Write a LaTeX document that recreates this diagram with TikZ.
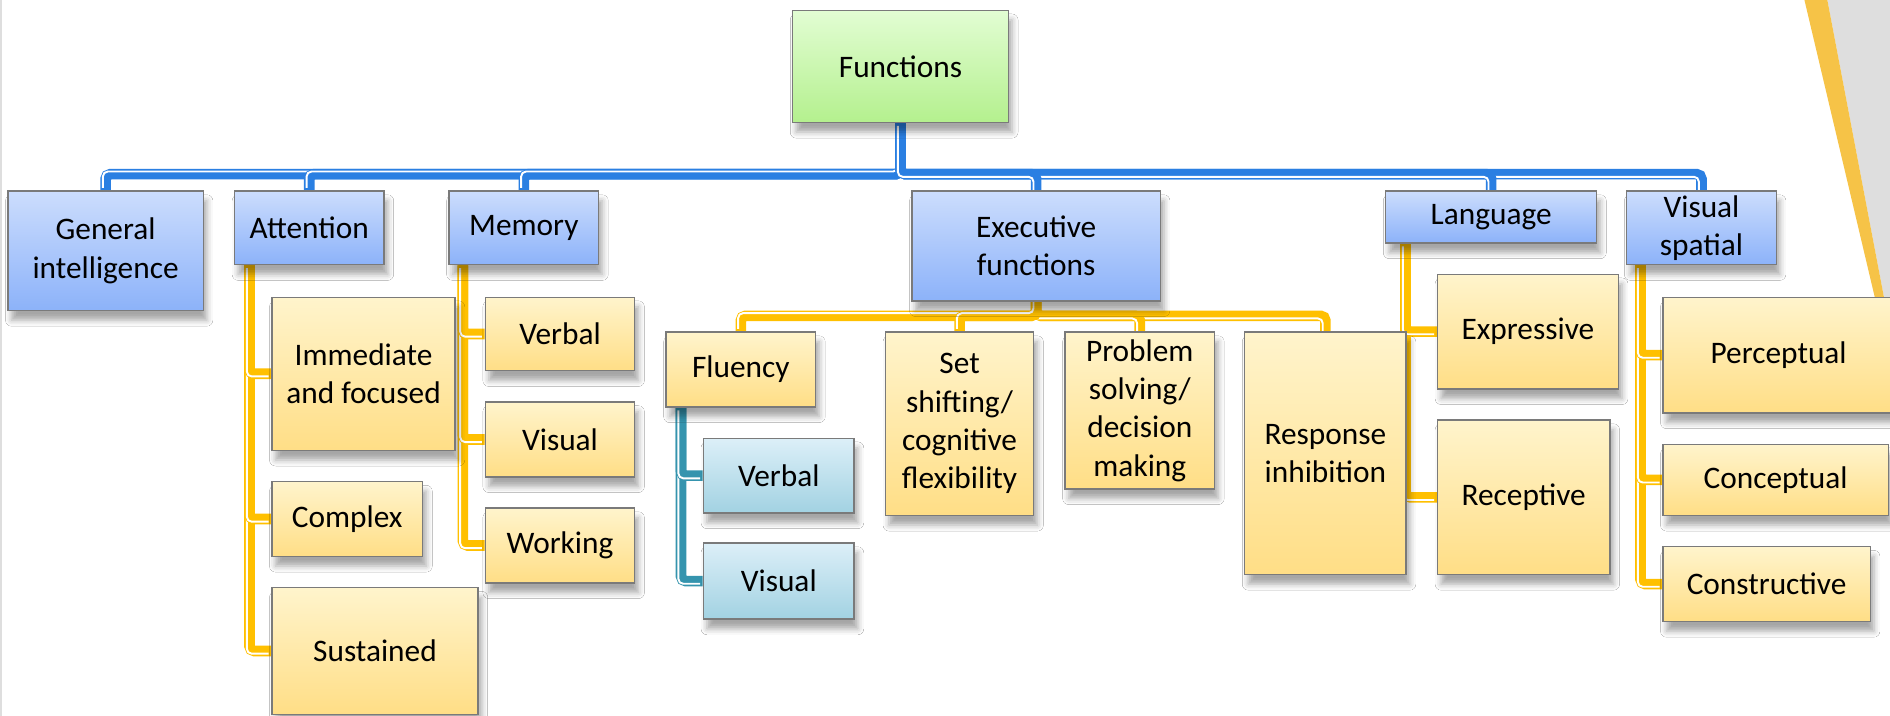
\documentclass[tikz,border=0pt]{standalone}
\usepackage{fontspec}
\setmainfont{Carlito}
\usetikzlibrary{shadows.blur}
\definecolor{blueTop}{HTML}{CCDDFD}
\definecolor{blueBot}{HTML}{8CB2F9}
\definecolor{greenTop}{HTML}{E2FDD3}
\definecolor{greenBot}{HTML}{B4F08E}
\definecolor{yelTop}{HTML}{FFF4CC}
\definecolor{yelBot}{HTML}{FFDE86}
\definecolor{tealTop}{HTML}{DCEFF8}
\definecolor{tealBot}{HTML}{A2D2E2}
\definecolor{edgeGray}{HTML}{7A7A7A}
\definecolor{lineBlue}{HTML}{2A7FE2}
\definecolor{lineGold}{HTML}{FFC000}
\definecolor{lineTeal}{HTML}{3594AE}
\definecolor{decoGold}{HTML}{F6C347}
\definecolor{decoGray}{HTML}{DEDEDE}
\newcommand\dline[3]{%
  \draw[conn, draw=#1] #3;
  \draw[wline, transform canvas={shift={(-1.1pt,#2)}}] #3;
}
\newcommand\allboxes{%
  \bx{green}{fun}{657,8}{89.5}{46.5}{Functions}
  \bx{blue}{gen}{6,158}{81}{49.5}{General\\intelligence}
  \bx{blue}{att}{194,158}{62}{30.5}{Attention}
  \bx{blue}{mem}{372,158}{62}{30.5}{Memory}
  \bx{blue}{exec}{756,158}{103}{45.5}{Executive\\functions}
  \bx{blue}{lang}{1149,158}{87.5}{21.5}{Language}
  \bx{blue}{vs}{1349,158}{62}{30.5}{Visual\\spatial}
  \bx{yel}{imm}{225,246}{76}{63.5}{Immediate\\and focused}
  \bx{yel}{cplx}{225,399}{62.5}{31}{Complex}
  \bx{yel}{sus}{225,487}{85.5}{52.5}{Sustained}
  \bx{yel}{mverb}{402,246}{62}{30.5}{Verbal}
  \bx{yel}{mvis}{402,333}{62}{31}{Visual}
  \bx{yel}{mwork}{402,421}{62}{31}{Working}
  \bx{yel}{flu}{552,275}{62}{31}{Fluency}
  \bx{yel}{set}{734,275}{61.5}{76}{Set\\shifting/\\cognitive\\flexibility}
  \bx{yel}{prob}{883,275}{62}{65}{Problem\\solving/\\decision\\making}
  \bx{yel}{resp}{1032,275}{67}{100.5}{Response\\inhibition}
  \bx{teal}{fverb}{583,363}{62.5}{31}{Verbal}
  \bx{teal}{fvis}{583,450}{62.5}{31.5}{Visual}
  \bx{yel}{expr}{1192,227}{75}{47.5}{Expressive}
  \bx{yel}{rec}{1192,348}{71.5}{64}{Receptive}
  \bx{yel}{perc}{1379,246}{96}{48}{Perceptual}
  \bx{yel}{conc}{1379,368}{93.5}{29.5}{Conceptual}
  \bx{yel}{cons}{1379,453}{86}{31}{Constructive}
}
\begin{document}
\begin{tikzpicture}[x=0.5pt, y=-0.5pt,
  ghost/.style={line width=0.6pt, inner sep=1pt, anchor=north west},
  box/.style={draw=edgeGray, line width=0.6pt, inner sep=1pt, align=center,
    anchor=north west, font=\fontsize{13}{15.9}\selectfont,
    blur shadow={shadow xshift=1.5pt, shadow yshift=-4pt, shadow blur radius=2.5pt, shadow opacity=35}},
  bluebox/.style={box, top color=blueTop, bottom color=blueBot},
  greenbox/.style={box, top color=greenTop, bottom color=greenBot},
  yelbox/.style={box, top color=yelTop, bottom color=yelBot},
  tealbox/.style={box, top color=tealTop, bottom color=tealBot},
  conn/.style={line width=4.4pt, rounded corners=2pt},
  wline/.style={draw=white, line width=0.8pt, rounded corners=2pt}]
\useasboundingbox (0,0) rectangle (1568,594);
\fill[white] (0,0) rectangle (1568,594);
% slide decoration
\fill[decoGray] (1516,0) -- (1568,0) -- (1568,273) -- cycle;
\fill[decoGold] (1497,0) -- (1516,0) -- (1568,273) -- (1568,300) -- cycle;
\draw[decoGray, line width=1pt] (1,0) -- (1,594);

% place the nodes (invisible) so connectors can refer to them
\def\bx#1#2#3#4#5#6{\node[ghost, minimum width=#4pt, minimum height=#5pt] (#2) at (#3) {};}
\allboxes

% connectors
% top level
\dline{lineBlue}{1.1pt}{(fun.south) -- (fun.south |- 0,144.5) -| (gen.north)}
\dline{lineBlue}{1.1pt}{(fun.south) -- (fun.south |- 0,144.5) -| (att.north)}
\dline{lineBlue}{1.1pt}{(fun.south) -- (fun.south |- 0,144.5) -| (mem.north)}
\dline{lineBlue}{-1.1pt}{(fun.south) -- (fun.south |- 0,144.5) -| (vs.north)}
\dline{lineBlue}{-1.1pt}{(fun.south) -- (fun.south |- 0,144.5) -| (lang.north)}
\dline{lineBlue}{-1.1pt}{(fun.south) -- (fun.south |- 0,144.5) -| (exec.north)}
% executive functions
\dline{lineGold}{-1.1pt}{(exec.south) -- (exec.south |- 0,262) -| (resp.north)}
\dline{lineGold}{-1.1pt}{(exec.south) -- (exec.south |- 0,262) -| (prob.north)}
\dline{lineGold}{1.1pt}{(exec.south) -- (exec.south |- 0,262) -| (flu.north)}
\dline{lineGold}{1.1pt}{(exec.south) -- (exec.south |- 0,262) -| (set.north)}
% attention
\dline{lineGold}{-1.1pt}{([xshift=6.5pt]att.south west) |- (sus.west)}
\dline{lineGold}{-1.1pt}{([xshift=6.5pt]att.south west) |- (cplx.west)}
\dline{lineGold}{-1.1pt}{([xshift=6.5pt]att.south west) |- (imm.west)}
% memory
\dline{lineGold}{-1.1pt}{([xshift=6pt]mem.south west) |- (mwork.west)}
\dline{lineGold}{-1.1pt}{([xshift=6pt]mem.south west) |- (mvis.west)}
\dline{lineGold}{-1.1pt}{([xshift=6pt]mem.south west) |- (mverb.west)}
% fluency
\dline{lineTeal}{-1.1pt}{([xshift=6.5pt]flu.south west) |- (fvis.west)}
\dline{lineTeal}{-1.1pt}{([xshift=6.5pt]flu.south west) |- (fverb.west)}
% language
\dline{lineGold}{-1.1pt}{([xshift=8.5pt]lang.south west) |- (rec.west)}
\dline{lineGold}{-1.1pt}{([xshift=8.5pt]lang.south west) |- (expr.west)}
% visual spatial
\dline{lineGold}{-1.1pt}{([xshift=6pt]vs.south west) |- (cons.west)}
\dline{lineGold}{-1.1pt}{([xshift=6pt]vs.south west) |- (conc.west)}
\dline{lineGold}{-1.1pt}{([xshift=6pt]vs.south west) |- (perc.west)}

% visible boxes on top of the connectors
\def\bx#1#2#3#4#5#6{\node[#1box, minimum width=#4pt, minimum height=#5pt] (#2) at (#3) {#6};}
\allboxes
\end{tikzpicture}
\end{document}
